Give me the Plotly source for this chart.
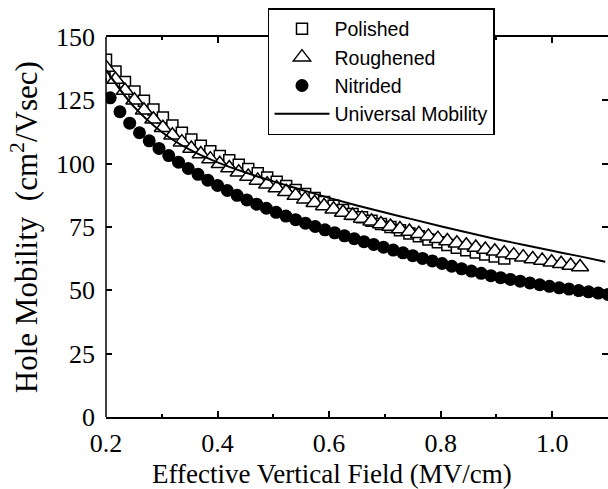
import plotly.graph_objects as go

# Effective vertical field (MV/cm) and hole mobility (cm^2/Vs) for each sample
field_polished = [0.200, 0.217, 0.234, 0.251, 0.268, 0.285, 0.302, 0.319, 0.336, 0.353,
                  0.370, 0.387, 0.404, 0.421, 0.438, 0.455, 0.472, 0.489, 0.506, 0.523,
                  0.540, 0.557, 0.574, 0.591, 0.608, 0.625, 0.642, 0.659, 0.676, 0.693,
                  0.710, 0.727, 0.744, 0.761, 0.778, 0.795, 0.812, 0.829, 0.846, 0.863,
                  0.880, 0.897, 0.914]
mob_polished = [141.0, 136.4, 132.2, 128.5, 124.8, 121.4, 118.2, 115.1, 112.2, 109.5,
                107.1, 104.9, 103.0, 101.3, 99.6, 97.9, 96.2, 94.5, 92.9, 91.2,
                89.6, 88.0, 86.4, 84.9, 83.4, 81.7, 80.1, 78.8, 77.5, 76.2,
                75.0, 73.7, 72.4, 71.3, 70.1, 69.0, 67.9, 66.8, 65.8, 64.9,
                64.1, 63.4, 62.6]

field_rough = [0.200, 0.217, 0.234, 0.251, 0.268, 0.285, 0.302, 0.319, 0.336, 0.353,
               0.370, 0.387, 0.404, 0.421, 0.438, 0.455, 0.472, 0.489, 0.506, 0.523,
               0.540, 0.557, 0.574, 0.591, 0.608, 0.625, 0.642, 0.659, 0.676, 0.693,
               0.710, 0.727, 0.744, 0.761, 0.778, 0.795, 0.812, 0.829, 0.846, 0.863,
               0.880, 0.897, 0.914, 0.931, 0.948, 0.965, 0.982, 0.999, 1.016, 1.033,
               1.050]
mob_rough = [138.0, 133.2, 128.9, 125.0, 121.1, 117.5, 114.2, 111.2, 108.5, 106.0,
             103.8, 101.8, 100.0, 98.3, 96.6, 94.9, 93.4, 91.9, 90.4, 88.9,
             87.4, 86.0, 84.6, 83.3, 82.0, 80.7, 79.5, 78.4, 77.3, 76.2,
             75.2, 74.2, 73.2, 72.3, 71.3, 70.4, 69.5, 68.6, 67.8, 66.9,
             66.1, 65.4, 64.6, 63.9, 63.1, 62.4, 61.8, 61.1, 60.5, 59.8,
             59.2]

field_nitrided = [0.190, 0.2075, 0.225, 0.2425, 0.260, 0.2775, 0.295, 0.3125, 0.330, 0.3475,
                  0.365, 0.3825, 0.400, 0.4175, 0.435, 0.4525, 0.470, 0.4875, 0.505, 0.5225,
                  0.540, 0.5575, 0.575, 0.5925, 0.610, 0.6275, 0.645, 0.6625, 0.680, 0.6975,
                  0.715, 0.7325, 0.750, 0.7675, 0.785, 0.8025, 0.820, 0.8375, 0.855, 0.8725,
                  0.890, 0.9075, 0.925, 0.9425, 0.960, 0.9775, 0.995, 1.0125, 1.030, 1.0475,
                  1.065, 1.0825, 1.100]
mob_nitrided = [133.0, 126.0, 120.5, 116.0, 112.2, 109.0, 106.0, 103.2, 100.6, 98.1,
                95.8, 93.5, 91.4, 89.4, 87.5, 85.7, 84.0, 82.4, 80.8, 79.3,
                77.9, 76.5, 75.2, 73.9, 72.7, 71.5, 70.4, 69.2, 68.1, 67.0,
                65.9, 64.8, 63.7, 62.6, 61.6, 60.6, 59.5, 58.5, 57.6, 56.7,
                55.8, 55.0, 54.3, 53.6, 52.9, 52.2, 51.6, 51.0, 50.5, 49.9,
                49.4, 48.9, 48.4]

field_universal = [0.20, 0.25, 0.30, 0.35, 0.40, 0.45, 0.50, 0.55, 0.60, 0.65,
                   0.70, 0.75, 0.80, 0.85, 0.90, 0.95, 1.00, 1.05, 1.095]
mob_universal = [137.0, 122.5, 112.5, 105.5, 100.5, 96.5, 93.0, 89.7, 86.5, 83.5,
                 80.7, 78.0, 75.3, 72.7, 70.2, 67.9, 65.6, 63.4, 61.3]

x_ticks = [0.2, 0.4, 0.6, 0.8, 1.0]
y_ticks = [0, 25, 50, 75, 100, 125, 150]

SERIF = "Liberation Serif, Times New Roman, serif"
SANS = "Liberation Sans, Arial, sans-serif"

fig = go.Figure()

fig.add_trace(go.Scatter(
    x=field_nitrided, y=mob_nitrided, mode="markers", name="Nitrided",
    legendrank=3,
    marker=dict(symbol="circle", size=13, color="black", line=dict(width=0)),
))
fig.add_trace(go.Scatter(
    x=field_polished, y=mob_polished, mode="markers", name="Polished",
    legendrank=1,
    marker=dict(symbol="square", size=11, color="white",
                line=dict(color="black", width=1.5)),
))
fig.add_trace(go.Scatter(
    x=field_rough, y=mob_rough, mode="markers", name="Roughened",
    legendrank=2,
    marker=dict(symbol="triangle-up", size=15, color="white",
                line=dict(color="black", width=1.5)),
))
fig.add_trace(go.Scatter(
    x=field_universal, y=mob_universal, mode="lines", name="Universal Mobility",
    legendrank=4, line=dict(color="black", width=2, shape="spline"),
))

tick_style = dict(
    ticks="inside", ticklen=6, tickwidth=1.5, tickcolor="black",
    showgrid=False, zeroline=False,
)

fig.update_xaxes(
    range=[0.2, 1.1], tickvals=x_ticks, tickformat=".1f",
    showline=True, linecolor="black", linewidth=1.5, mirror="ticks",
    minor=dict(dtick=0.1, tick0=0.2, ticks="inside", ticklen=3, tickwidth=1.5, tickcolor="black"),
    tickfont=dict(family=SERIF, size=26, color="black"),
    ticklabelstandoff=2,
    **tick_style,
)
# The right-hand frame edge falls just past the figure, so only its ticks show;
# the left axis line is drawn as a shape below.
fig.update_yaxes(
    range=[0, 150], tickvals=y_ticks,
    showline=False, mirror="ticks",
    tickfont=dict(family=SERIF, size=26, color="black"),
    ticklabelstandoff=10,
    **tick_style,
)
fig.add_shape(type="line", xref="paper", yref="paper", x0=0, x1=0, y0=0, y1=1,
              line=dict(color="black", width=1.5))

# Axis titles
fig.add_annotation(
    text="Effective Vertical Field (MV/cm)", xref="paper", yref="paper",
    x=0.45, y=-0.150, xanchor="center", yanchor="middle", showarrow=False,
    font=dict(family=SERIF, size=27, color="black"),
)
fig.add_annotation(
    text="Hole Mobility  (cm<sup>2</sup>/Vsec)", xref="paper", yref="paper",
    x=-0.163, y=0.5, xanchor="center", yanchor="middle", showarrow=False,
    textangle=-90, font=dict(family=SERIF, size=31, color="black"),
)

fig.update_layout(
    width=608, height=489,
    margin=dict(l=106, r=0, t=37, b=72),
    paper_bgcolor="white", plot_bgcolor="white",
    showlegend=True,
    legend=dict(
        x=0.3227, y=1.076, xanchor="left", yanchor="top",
        bgcolor="white", bordercolor="black", borderwidth=1.5,
        font=dict(family=SANS, size=19.5, color="black"),
        itemwidth=55,
    ),
)

fig.write_html("out.html")
